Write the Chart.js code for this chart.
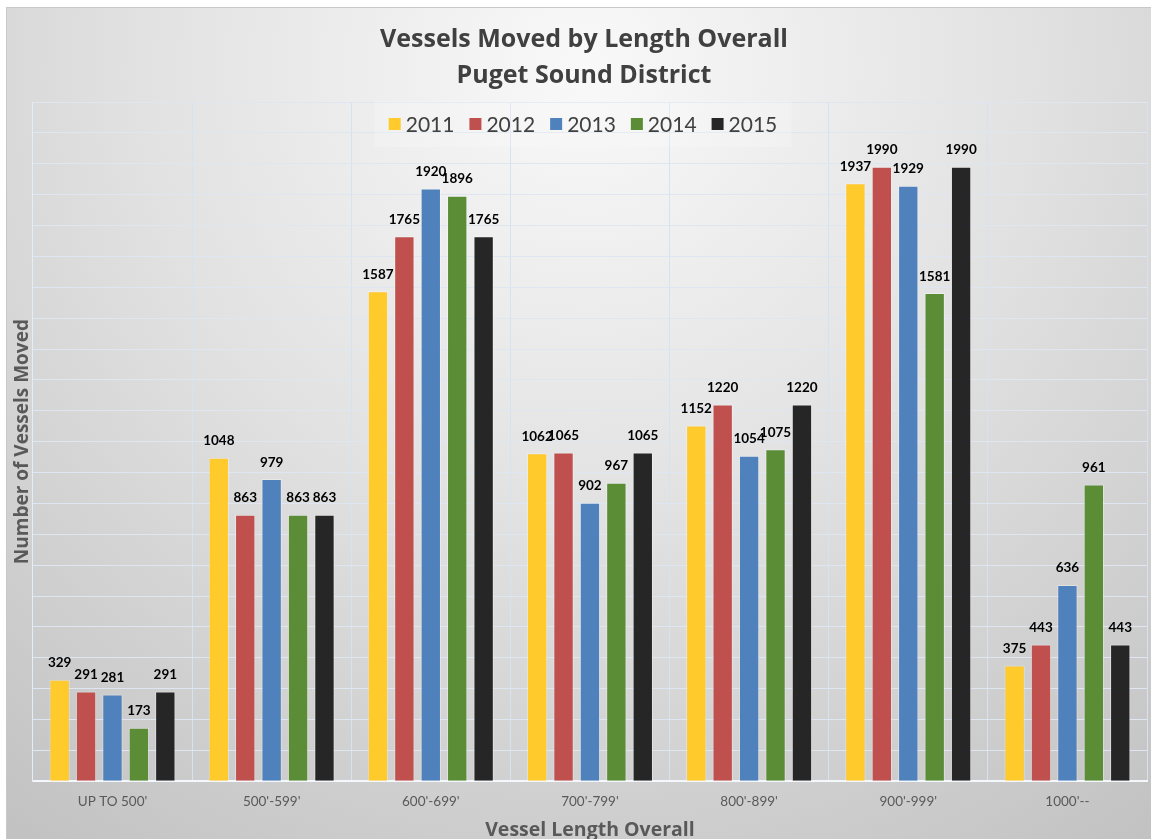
<!DOCTYPE html>
<html>
<head>
<meta charset="utf-8">
<script src="https://cdn.jsdelivr.net/npm/chart.js@4.4.0/dist/chart.umd.min.js"></script>
<style>
  html, body { margin: 0; padding: 0; background: #ffffff; overflow: hidden; }
  #wrap { position: relative; width: 1151px; height: 839px; }
</style>
</head>
<body>
<div id="wrap"><canvas id="graph"></canvas></div>
<script>
// vessel length buckets
var categories = ["UP TO 500'", "500'-599'", "600'-699'", "700'-799'", "800'-899'", "900'-999'", "1000'--"];
var years = ["2011", "2012", "2013", "2014", "2015"];
var values2011 = [329, 1048, 1587, 1062, 1152, 1937, 375];
var values2012 = [291, 863, 1765, 1065, 1220, 1990, 443];
var values2013 = [281, 979, 1920, 902, 1054, 1929, 636];
var values2014 = [173, 863, 1896, 967, 1075, 1581, 961];
var values2015 = [291, 863, 1765, 1065, 1220, 1990, 443];
var colors = ["#FFCA2B", "#C0504D", "#4F81BD", "#5B8C36", "#262626"];
var titleLines = ['Vessels Moved by Length Overall', 'Puget Sound District'];

var allValues = [values2011, values2012, values2013, values2014, values2015];
var datasets = [];
for (var i = 0; i < years.length; i++) {
    datasets.push({
        label: years[i],
        data: allValues[i],
        backgroundColor: colors[i],
        borderColor: 'rgba(255,255,255,0.35)',
        borderWidth: 1,
        barPercentage: 0.77,
        categoryPercentage: 0.83
    });
}

var FONT = "Lato, 'Open Sans', sans-serif";
var HEAD_FONT = "'Open Sans', Lato, sans-serif";

// gradient background behind everything
var backgroundPlugin = {
    id: 'bg',
    beforeDraw: function(chart) {
        var ctx = chart.ctx;
        ctx.save();
        ctx.fillStyle = '#ffffff';
        ctx.fillRect(0, 0, chart.width, chart.height);
        var g = ctx.createRadialGradient(585, 70, 20, 585, 70, 950);
        g.addColorStop(0, '#f8f8f8');
        g.addColorStop(0.45, '#e2e2e2');
        g.addColorStop(1, '#c2c2c2');
        ctx.fillStyle = g;
        ctx.fillRect(6, 7, chart.width - 6, chart.height - 7);
        ctx.strokeStyle = '#c8c8c8';
        ctx.lineWidth = 1;
        ctx.strokeRect(6.5, 7.5, chart.width, chart.height);
        ctx.restore();
    }
};

// two line title, drawn by hand so it can sit a little right of centre
var titlePlugin = {
    id: 'headTitle',
    afterDraw: function(chart) {
        var ctx = chart.ctx;
        ctx.save();
        ctx.font = "bold 25px " + HEAD_FONT;
        ctx.fillStyle = '#404040';
        ctx.textAlign = 'center';
        ctx.textBaseline = 'middle';
        ctx.fillText(titleLines[0], 584, 40);
        ctx.fillText(titleLines[1], 584, 76);
        ctx.restore();
    }
};

// legend floating inside the plot area
var legendPlugin = {
    id: 'floatLegend',
    afterDraw: function(chart) {
        var ctx = chart.ctx;
        ctx.save();
        ctx.font = "21px " + FONT;
        var box = 12, gap = 5, spacing = 15;
        var total = 0;
        var widths = [];
        chart.data.datasets.forEach(function(ds) {
            var w = ctx.measureText(ds.label).width;
            widths.push(w);
            total += box + gap + w;
        });
        total += spacing * (widths.length - 1);
        var x = 583 - total / 2;
        var y = 124;
        ctx.fillStyle = 'rgba(250,250,250,0.25)';
        ctx.fillRect(x - 14, 101, total + 28, 46);
        ctx.textBaseline = 'middle';
        chart.data.datasets.forEach(function(ds, i) {
            ctx.fillStyle = ds.backgroundColor;
            ctx.fillRect(x, y - box / 2, box, box);
            ctx.fillStyle = '#404040';
            ctx.fillText(ds.label, x + box + gap, y + 1);
            x += box + gap + widths[i] + spacing;
        });
        ctx.restore();
    }
};

// value labels above each bar
var valueLabels = {
    id: 'valueLabels',
    afterDatasetsDraw: function(chart) {
        var ctx = chart.ctx;
        ctx.save();
        ctx.font = "bold 13.5px " + FONT;
        ctx.fillStyle = '#000000';
        ctx.textAlign = 'center';
        ctx.textBaseline = 'bottom';
        chart.data.datasets.forEach(function(ds, i) {
            var meta = chart.getDatasetMeta(i);
            meta.data.forEach(function(bar, j) {
                ctx.fillText(ds.data[j], bar.x, bar.y - 10);
            });
        });
        ctx.restore();
    }
};

var ctx = document.getElementById('graph').getContext('2d');
var chart = new Chart(ctx, {
    type: 'bar',
    data: { labels: categories, datasets: datasets },
    plugins: [backgroundPlugin, legendPlugin, valueLabels, titlePlugin],
    options: {
        responsive: true,
        maintainAspectRatio: false,
        animation: false,
        layout: { padding: { left: 6, right: 4, top: 102, bottom: 0 } },
        plugins: {
            legend: { display: false },
            tooltip: { enabled: false },
            title: { display: false }
        },
        scales: {
            x: {
                grid: { color: '#d6e2f0', drawTicks: false },
                border: { color: '#f4f8fc', width: 2 },
                ticks: { color: '#595959', font: { family: FONT, size: 13.5 }, padding: 12 },
                title: {
                    display: true,
                    text: 'Vessel Length Overall',
                    color: '#595959',
                    font: { family: HEAD_FONT, size: 19.5, weight: 'bold', lineHeight: 0.9 },
                    padding: { top: 0, bottom: 0 }
                }
            },
            y: {
                min: 0,
                max: 2200,
                grid: { color: '#dde6f1', drawTicks: false },
                border: { color: '#e4ecf5' },
                ticks: { display: false, stepSize: 100 },
                title: {
                    display: true,
                    text: 'Number of Vessels Moved',
                    color: '#595959',
                    font: { family: HEAD_FONT, size: 19, weight: 'bold', lineHeight: 1.1 },
                    padding: { top: 6, bottom: 0 }
                }
            }
        }
    }
});
</script>
</body>
</html>
